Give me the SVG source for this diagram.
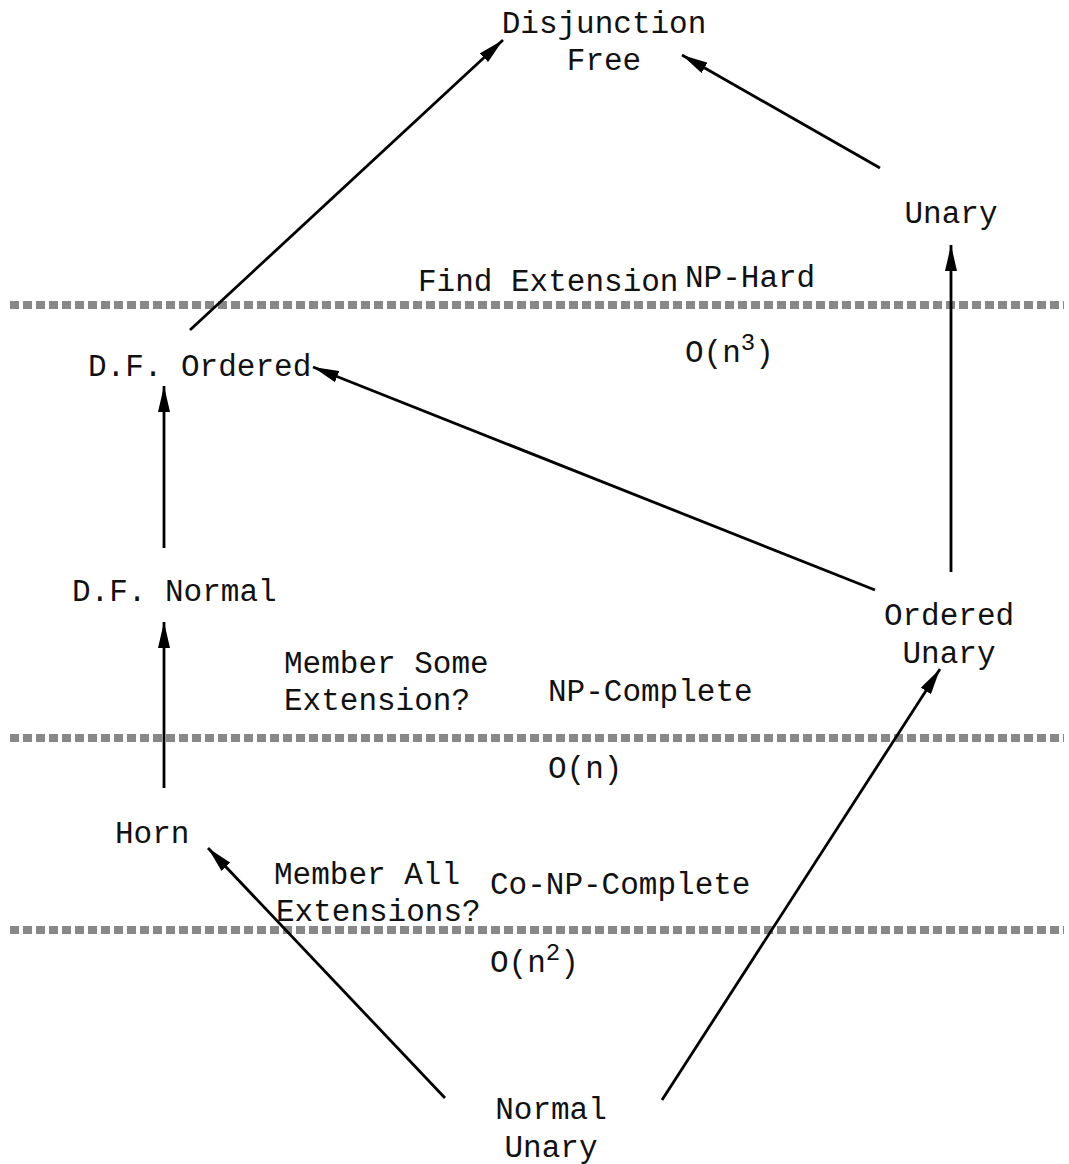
<svg xmlns="http://www.w3.org/2000/svg" width="1069" height="1164" viewBox="0 0 1069 1164">
<style>
text{font-family:"Liberation Mono","Courier New",monospace;font-size:31px;fill:#111}
.c{text-anchor:middle}
.sup{font-size:24px}
.div{stroke:#888;stroke-width:8;stroke-dasharray:9 4;fill:none}
</style>
<defs>
<marker id="a" viewBox="0 0 26 12" refX="26" refY="6" markerWidth="26" markerHeight="12" markerUnits="userSpaceOnUse" orient="auto">
<path d="M0,0 L26,6 L0,12 Z" fill="#000"/>
</marker>
</defs>
<rect width="1069" height="1164" fill="#fff"/>
<g id="dividers">
<line class="div" x1="10" y1="305" x2="1064" y2="305"/>
<line class="div" x1="10" y1="738" x2="1064" y2="738"/>
<line class="div" x1="10" y1="930" x2="1064" y2="930"/>
</g>
<g id="connectors" stroke="#000" stroke-width="2.8" fill="none">
<line x1="190" y1="330" x2="503" y2="40" marker-end="url(#a)"/>
<line x1="880" y1="168" x2="682" y2="55" marker-end="url(#a)"/>
<line x1="951" y1="572" x2="951" y2="245" marker-end="url(#a)"/>
<line x1="875" y1="590" x2="313" y2="367" marker-end="url(#a)"/>
<line x1="164" y1="548" x2="164" y2="386" marker-end="url(#a)"/>
<line x1="164" y1="788" x2="164" y2="622" marker-end="url(#a)"/>
<line x1="445" y1="1098" x2="208" y2="848" marker-end="url(#a)"/>
<line x1="662" y1="1100" x2="940" y2="669" marker-end="url(#a)"/>
</g>
<g id="disjunction-free"><text class="c" x="604" y="33">Disjunction</text><text class="c" x="604" y="70">Free</text></g>
<g id="unary"><text class="c" x="951" y="223">Unary</text></g>
<g id="df-ordered"><text x="88" y="376">D.F. Ordered</text></g>
<g id="df-normal"><text x="72" y="601">D.F. Normal</text></g>
<g id="ordered-unary"><text class="c" x="949" y="625">Ordered</text><text class="c" x="949" y="663">Unary</text></g>
<g id="horn"><text x="115" y="843">Horn</text></g>
<g id="normal-unary"><text class="c" x="551" y="1119">Normal</text><text class="c" x="551" y="1157">Unary</text></g>
<g id="labels">
<text x="418" y="291">Find Extension</text>
<text x="685" y="287">NP-Hard</text>
<text x="685" y="362">O(n<tspan class="sup" dy="-12">3</tspan><tspan dy="12">)</tspan></text>
<text x="284" y="673">Member Some</text>
<text x="284" y="710">Extension?</text>
<text x="548" y="701">NP-Complete</text>
<text x="548" y="778">O(n)</text>
<text x="274" y="884">Member All</text>
<text x="276" y="921">Extensions?</text>
<text x="490" y="894">Co-NP-Complete</text>
<text x="490" y="972">O(n<tspan class="sup" dy="-12">2</tspan><tspan dy="12">)</tspan></text>
</g>
</svg>
